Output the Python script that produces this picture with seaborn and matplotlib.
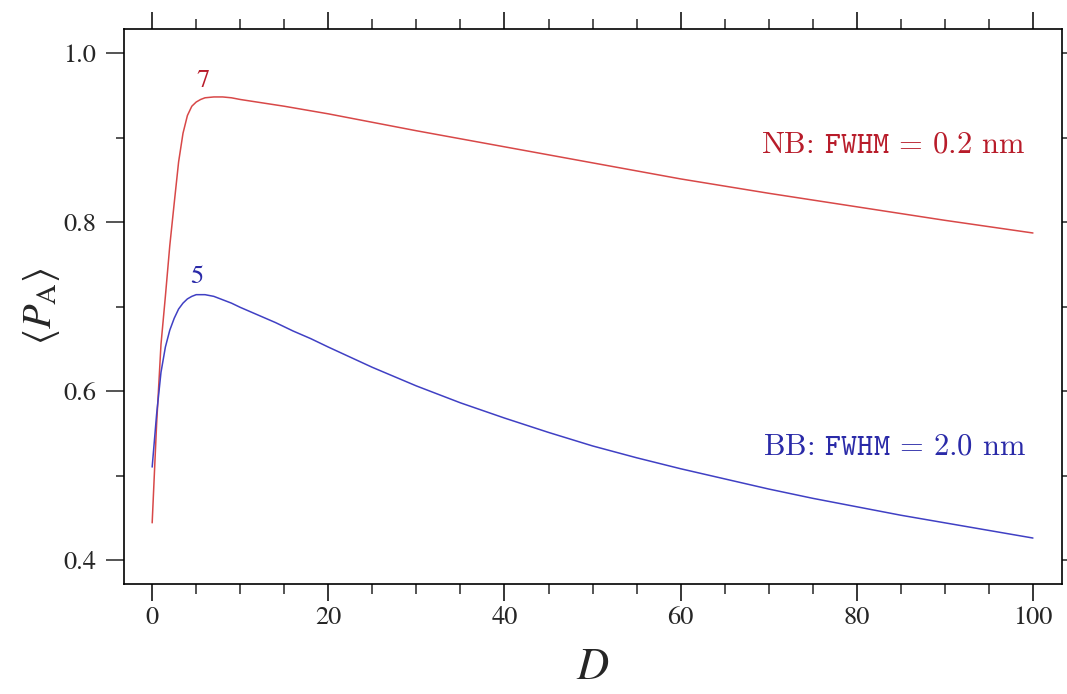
import numpy as np
import pandas as pd
import matplotlib
matplotlib.use("Agg")
import matplotlib.pyplot as plt
import seaborn as sns
from matplotlib.ticker import MultipleLocator

# ---- data ----
D_nb = [0, 0.5, 1, 1.5, 2, 2.5, 3, 3.5, 4, 4.5, 5, 5.5, 6, 7, 8, 9, 10, 12.5, 15, 20, 25, 30,
        40, 50, 60, 70, 80, 90, 100]
P_nb = [0.444, 0.56, 0.655, 0.712, 0.772, 0.822, 0.871, 0.905, 0.926, 0.937, 0.942, 0.945,
        0.947, 0.948, 0.948, 0.947, 0.945, 0.941, 0.937, 0.928, 0.918, 0.908,
        0.889, 0.870, 0.851, 0.834, 0.818, 0.802, 0.787]

D_bb = [0, 0.5, 1, 1.5, 2, 2.5, 3, 3.5, 4, 4.5, 5, 6, 7, 8, 9, 10, 12, 14, 16, 18, 20,
        22.5, 25, 27.5, 30, 35, 40, 45, 50, 55, 60, 65, 70, 75, 80, 85, 90, 95, 100]
P_bb = [0.51, 0.572, 0.622, 0.652, 0.672, 0.686, 0.697, 0.704, 0.709, 0.712, 0.714,
        0.714, 0.712, 0.708, 0.704, 0.699, 0.690, 0.681, 0.671, 0.662, 0.652,
        0.640, 0.628, 0.617, 0.606, 0.586, 0.568, 0.551, 0.535, 0.521, 0.508,
        0.496, 0.484, 0.473, 0.463, 0.453, 0.444, 0.435, 0.426]

series_names = ["NB", "BB"]
peak_labels = ["7", "5"]
ann_texts = [r"NB: $\mathtt{FWHM}$ = 0.2 nm",
             r"BB: $\mathtt{FWHM}$ = 2.0 nm"]
x_ticks = [0, 20, 40, 60, 80, 100]
y_ticks = [0.4, 0.6, 0.8, 1.0]

df = pd.concat([
    pd.DataFrame({"D": D_nb, "P": P_nb, "band": "NB"}),
    pd.DataFrame({"D": D_bb, "P": P_bb, "band": "BB"}),
], ignore_index=True)

line_colors = {"NB": "#d84848", "BB": "#4040c4"}
text_colors = {"NB": "#b81c2a", "BB": "#2a2aa8"}

sns.set_style("ticks")
plt.rcParams["font.family"] = ["STIXGeneral", "DejaVu Serif"]
plt.rcParams["mathtext.fontset"] = "stix"

fig = plt.figure(figsize=(10.67, 6.94), dpi=100)
ax = fig.add_axes([0.1162, 0.1585, 0.8791, 0.7997])

sns.lineplot(data=df, x="D", y="P", hue="band", palette=line_colors,
             linewidth=1.1, legend=False, ax=ax, sort=False)

ax.set_xlim(-3.2, 103.3)
ax.set_ylim(0.3716, 1.0284)
ax.set_xticks(x_ticks)
ax.set_yticks(y_ticks)
ax.xaxis.set_minor_locator(MultipleLocator(5))
ax.yaxis.set_minor_locator(MultipleLocator(0.1))
ax.set_xticklabels([str(t) for t in x_ticks])
ax.set_yticklabels([f"{t:.1f}" for t in y_ticks])

ax.tick_params(axis="x", which="major", direction="out", length=12, width=1.1,
               top=True, bottom=True, labelsize=19, pad=4, color="black")
ax.tick_params(axis="x", which="minor", direction="out", length=7, width=1.1,
               top=True, bottom=True)
ax.tick_params(axis="y", which="major", direction="out", length=13, width=1.1,
               left=True, right=True, labelsize=19, pad=7)
ax.tick_params(axis="y", which="minor", direction="out", length=6, width=1.1,
               left=True, right=True)

for s in ax.spines.values():
    s.set_linewidth(1.2)
    s.set_color("black")
    s.set_visible(True)

ax.set_xlabel(r"$D$", fontsize=32, labelpad=14)
ax.set_ylabel(r"$\langle P_{\mathrm{A}}\rangle$", fontsize=29)
ax.yaxis.set_label_coords(-0.066, 0.5)

# peak labels
ax.text(5.8, 0.967, peak_labels[0], color=text_colors["NB"], fontsize=19,
        ha="center", va="center")
ax.text(5.1, 0.735, peak_labels[1], color=text_colors["BB"], fontsize=19,
        ha="center", va="center")

# series annotations
t1 = ax.text(99.2, 0.891, ann_texts[0], color=text_colors["NB"], fontsize=22,
             ha="right", va="center", family="cmr10")
t2 = ax.text(99.2, 0.534, ann_texts[1], color=text_colors["BB"], fontsize=22,
             ha="right", va="center", family="cmr10")
for t in (t1, t2):
    t.set_math_fontfamily("cm")

fig.savefig("out.png", dpi=100, facecolor="white")
